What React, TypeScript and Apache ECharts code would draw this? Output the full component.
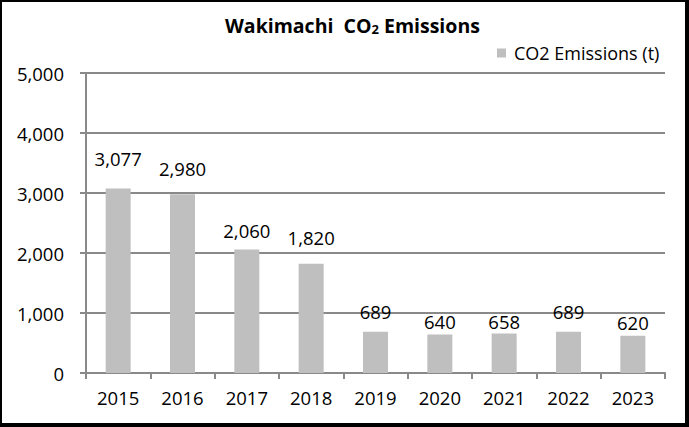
import React, { useEffect, useRef } from "react";
import * as echarts from "echarts";

const years = ["2015", "2016", "2017", "2018", "2019", "2020", "2021", "2022", "2023"];
const emissions = [3077, 2980, 2060, 1820, 689, 640, 658, 689, 620];
const labelDistances = [20, 16, 9, 17, 11, 4, 3, 11, 4];
const seriesName = "CO2 Emissions (t)";
const yMin = 0;
const yMax = 5000;
const yInterval = 1000;

const FONT = "'Open Sans', sans-serif";
const FS = 18.5;
const fmt = (v: number) => v.toLocaleString("en-US");

export default function App() {
  const ref = useRef<HTMLDivElement>(null);
  useEffect(() => {
    document.body.style.margin = "0";
    const chart = echarts.init(ref.current!, null, { renderer: "svg" });
    chart.setOption({
      animation: false,
      backgroundColor: "#ffffff",
      textStyle: { fontFamily: FONT, color: "#000" },
      title: {
        text: "{a|Wakimachi  CO}{s|2}{a| Emissions}",
        left: 220,
        top: 4,
        textStyle: {
          rich: {
            a: { fontFamily: FONT, fontWeight: "bold", fontSize: 19.5, color: "#000", lineHeight: 26, verticalAlign: "bottom" },
            s: { fontFamily: FONT, fontWeight: "bold", fontSize: 13, color: "#000", lineHeight: 22, verticalAlign: "bottom" },
          },
        },
      },
      legend: {
        left: 497,
        top: 44,
        padding: 0,
        icon: "rect",
        itemWidth: 9,
        itemHeight: 9,
        itemGap: 10,
        textStyle: { fontFamily: FONT, fontSize: 18, color: "#000", padding: [0, 0, 0, 3] },
        data: [seriesName],
      },
      grid: { left: 86, right: 24, top: 73, bottom: 54, containLabel: false },
      xAxis: {
        type: "category",
        data: years,
        axisLine: { show: true, lineStyle: { color: "#898989", width: 2 } },
        axisTick: { show: true, length: 6, lineStyle: { color: "#898989", width: 2 } },
        axisLabel: { fontFamily: FONT, fontSize: FS, color: "#000", margin: 15 },
      },
      yAxis: {
        type: "value",
        min: yMin,
        max: yMax,
        interval: yInterval,
        axisLine: { show: true, lineStyle: { color: "#898989", width: 2 } },
        axisTick: { show: true, length: 6, lineStyle: { color: "#898989", width: 2 } },
        splitLine: { show: true, lineStyle: { color: "#898989", width: 2 } },
        axisLabel: { fontFamily: FONT, fontSize: FS, color: "#000", margin: 22, formatter: (v: number) => fmt(v) },
      },
      series: [
        {
          name: seriesName,
          type: "bar",
          barWidth: 25,
          itemStyle: { color: "#bfbfbf" },
          data: emissions.map((v, i) => ({
            value: v,
            label: { distance: labelDistances[i] },
          })),
          label: {
            show: true,
            position: "top",
            fontFamily: FONT,
            fontSize: FS,
            color: "#000",
            formatter: (p: any) => fmt(p.value),
          },
        },
      ],
      graphic: [
        { type: "rect", silent: true, z: 100, shape: { x: 0, y: 0, width: 689, height: 2 }, style: { fill: "#000" } },
        { type: "rect", silent: true, z: 100, shape: { x: 0, y: 0, width: 2, height: 427 }, style: { fill: "#000" } },
        { type: "rect", silent: true, z: 100, shape: { x: 685, y: 0, width: 4, height: 427 }, style: { fill: "#000" } },
        { type: "rect", silent: true, z: 100, shape: { x: 0, y: 423, width: 689, height: 4 }, style: { fill: "#000" } },
      ],
    });
    return () => chart.dispose();
  }, []);
  return <div ref={ref} style={{ width: 689, height: 427 }} />;
}
